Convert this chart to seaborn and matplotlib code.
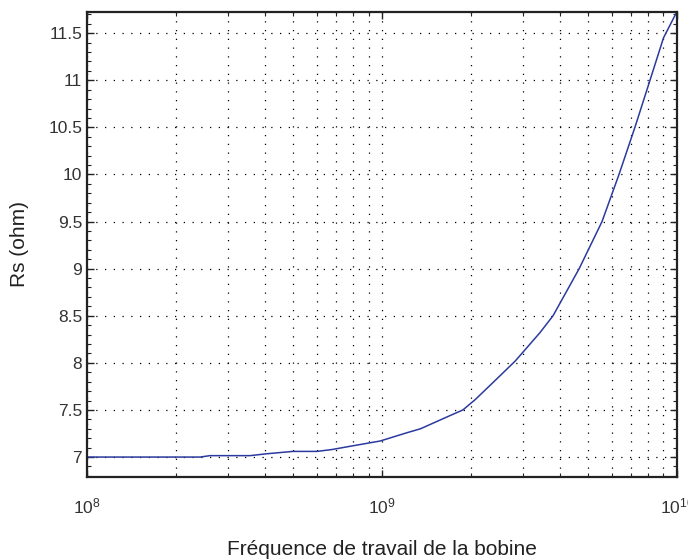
"""Rs of the coil versus working frequency (log x)."""

import matplotlib
matplotlib.use("Agg")
import matplotlib.pyplot as plt
import matplotlib.ticker as mticker
import numpy as np
import pandas as pd
import seaborn as sns

# values
freq_hz = [1.0e8, 2.42e8, 2.61e8, 3.57e8, 4.07e8, 4.99e8, 6.02e8, 6.77e8,
           7.98e8, 9.85e8, 1.22e9, 1.35e9, 1.70e9, 1.88e9, 2.07e9, 2.45e9,
           2.83e9, 3.43e9, 3.80e9, 4.66e9, 5.57e9, 6.36e9, 7.20e9, 8.10e9,
           9.00e9, 1.0e10]
rs_ohm = [7.0, 7.0, 7.015, 7.015, 7.035, 7.06, 7.06, 7.08,
          7.12, 7.17, 7.26, 7.30, 7.44, 7.5, 7.61, 7.83,
          8.02, 8.32, 8.5, 9.0, 9.5, 10.0, 10.5, 11.0,
          11.45, 11.73]

y_ticks = [7, 7.5, 8, 8.5, 9, 9.5, 10, 10.5, 11, 11.5]
y_tick_labels = ["7", "7.5", "8", "8.5", "9", "9.5", "10", "10.5", "11", "11.5"]

sns.set_style("ticks")
plt.rcParams["font.family"] = ["Liberation Sans", "DejaVu Sans"]
plt.rcParams["mathtext.fontset"] = "custom"
plt.rcParams["mathtext.rm"] = "Liberation Sans"
plt.rcParams["mathtext.it"] = "Liberation Sans"

df = pd.DataFrame({"freq": freq_hz, "rs": rs_ohm})

fig = plt.figure(figsize=(6.88, 5.6), dpi=100)
ax = fig.add_axes([0.1265, 0.148, 0.8575, 0.831])

sns.lineplot(data=df, x="freq", y="rs", ax=ax, color="#2b3a9e", linewidth=1.1)

ax.set_xscale("log")
ax.set_xlim(1e8, 1e10)
ax.set_ylim(6.787, 11.727)
ax.set_yticks(y_ticks)
ax.set_yticklabels(y_tick_labels)
ax.yaxis.set_minor_locator(mticker.MultipleLocator(0.1))
ax.xaxis.set_major_locator(mticker.LogLocator(base=10, numticks=5))
ax.xaxis.set_minor_locator(mticker.LogLocator(base=10, subs=np.arange(2, 10), numticks=20))
ax.xaxis.set_minor_formatter(mticker.NullFormatter())

grid_style = dict(color="black", linestyle=(0, (1, 6)), linewidth=0.9)
ax.grid(True, which="major", axis="both", **grid_style)
ax.grid(True, which="minor", axis="x", **grid_style)

for side in ax.spines.values():
    side.set_linewidth(1.6)
    side.set_color("#222222")
    side.set_visible(True)

ax.tick_params(which="both", direction="in", top=True, right=True, colors="#222222",
               labelcolor="#333333")
ax.tick_params(which="major", length=5, width=1.0, labelsize=12.5)
ax.tick_params(which="minor", length=3, width=0.8)
ax.tick_params(axis="x", which="major", pad=14)

ax.set_xlabel("Fréquence de travail de la bobine", fontsize=15, color="#222222", labelpad=17)
ax.set_ylabel("Rs (ohm)", fontsize=15, color="#222222", labelpad=14)

fig.savefig("out.png", dpi=100)
